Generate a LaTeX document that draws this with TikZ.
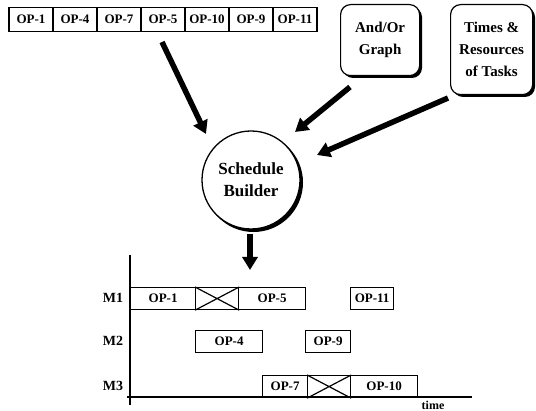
\documentclass[tikz,border=0pt]{standalone}
\usepackage{fontspec}
\setmainfont{Liberation Serif}
\usetikzlibrary{arrows.meta}
\begin{document}
\begin{tikzpicture}[x=1pt,y=-1pt,
  opbox/.style={draw,line width=1.2pt,minimum width=44pt,minimum height=24pt,inner sep=0pt,font=\fontsize{13}{15}\selectfont\bfseries},
  gbox/.style={draw,line width=1.2pt,minimum height=22pt,inner sep=0pt,anchor=north west,font=\fontsize{13}{15}\selectfont\bfseries},
  rbox/.style={draw,fill=white,line width=1.2pt,rounded corners=10pt,anchor=north west,align=center,inner sep=0pt,font=\fontsize{15}{22}\selectfont\bfseries},
  bigarrow/.style={line width=5.5pt,-{Triangle[length=13pt,width=15pt]}},
  mlabel/.style={font=\fontsize{14}{16}\selectfont\bfseries},
  axis/.style={line width=1.2pt}
]
\useasboundingbox (0,0) rectangle (536,411);
% top sequence
\node[opbox] (t1) at (31,19.5) {OP-1};
\node[opbox] (t4) at (75,19.5) {OP-4};
\node[opbox] (t7) at (119,19.5) {OP-7};
\node[opbox] (t5) at (163,19.5) {OP-5};
\node[opbox] (t10) at (207,19.5) {OP-10};
\node[opbox] (t9) at (251,19.5) {OP-9};
\node[opbox] (t11) at (295,19.5) {OP-11};
% rounded boxes with shadow
\fill[black,rounded corners=10pt] (343,7) rectangle (422,78);
\node[rbox,minimum width=79pt,minimum height=71pt] (ao) at (340,4) {And/Or\\Graph};
\fill[black,rounded corners=10pt] (453,7) rectangle (535,97);
\node[rbox,minimum width=82pt,minimum height=90pt] (tr) at (450,4) {Times \&\\Resources\\of Tasks};
% schedule builder
\fill[black] (253.5,182.5) circle (49.5);
\node[circle,draw,fill=white,line width=1.3pt,minimum size=98pt,inner sep=0pt,align=center,font=\fontsize{17}{22}\selectfont\bfseries] (sb) at (251,180) {Schedule\\Builder};
% arrows
\coordinate (a1s) at (162,42);
\coordinate (a1e) at (206,134);
\coordinate (a2s) at (350,87);
\coordinate (a2e) at (295,132);
\coordinate (a3s) at (448,98);
\coordinate (a3e) at (317,155);
\coordinate (a4s) at (250,234);
\coordinate (a4e) at (250,270);
\draw[bigarrow] (a1s) -- (a1e);
\draw[bigarrow] (a2s) -- (a2e);
\draw[bigarrow] (a3s) -- (a3e);
\draw[bigarrow] (a4s) -- (a4e);
% gantt axes
\coordinate (vtop) at (130,255);
\coordinate (vbot) at (130,405);
\coordinate (hl) at (127,397);
\coordinate (hr) at (472,397);
\draw[axis] (vtop) -- (vbot);
\draw[axis] (hl) -- (hr);
\node[font=\fontsize{12}{14}\selectfont\bfseries] (time) at (433,405) {time};
\node[mlabel] (m1) at (113,298) {M1};
\node[mlabel] (m2) at (113,341) {M2};
\node[mlabel] (m3) at (113,386) {M3};
% M1
\node[gbox,minimum width=65pt] (g1) at (130,287) {OP-1};
\node[gbox,minimum width=43pt] (x1) at (195,287) {};
\draw[line width=1.2pt] (x1.north west) -- (x1.south east) (x1.south west) -- (x1.north east);
\node[gbox,minimum width=67pt] (g5) at (238,287) {OP-5};
\node[gbox,minimum width=43pt] (g11) at (350,287) {OP-11};
% M2
\node[gbox,minimum width=67pt] (g4) at (195,330) {OP-4};
\node[gbox,minimum width=45pt] (g9) at (305,330) {OP-9};
% M3
\node[gbox,minimum width=45pt] (g7) at (262,375) {OP-7};
\node[gbox,minimum width=43pt] (x2) at (307,375) {};
\draw[line width=1.2pt] (x2.north west) -- (x2.south east) (x2.south west) -- (x2.north east);
\node[gbox,minimum width=67pt] (g10) at (350,375) {OP-10};
\end{tikzpicture}
\end{document}
